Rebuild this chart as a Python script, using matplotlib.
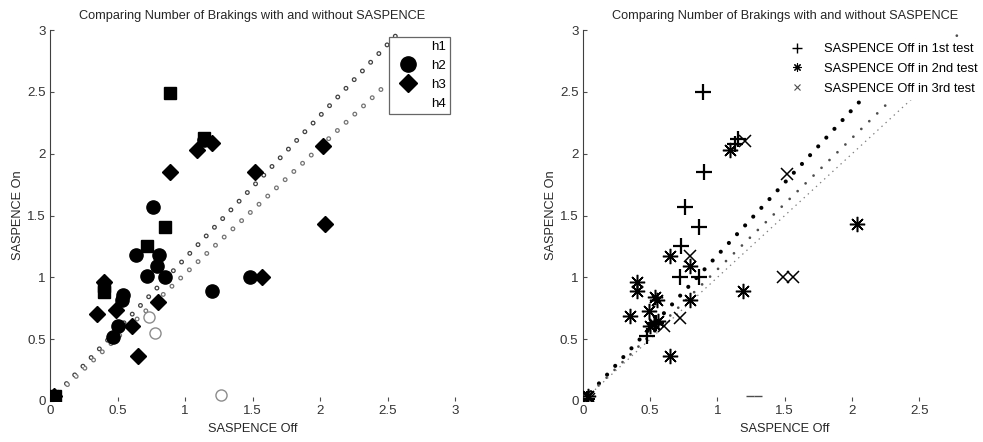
import matplotlib
matplotlib.use("Agg")
import matplotlib.pyplot as plt
from matplotlib.lines import Line2D

plt.rcParams['font.family'] = ['Liberation Sans', 'DejaVu Sans']
plt.rcParams['font.size'] = 9.2
plt.rcParams['lines.scale_dashes'] = False

title = "Comparing Number of Brakings with and without SASPENCE"
ticks = [0, 0.5, 1, 1.5, 2, 2.5, 3]
tick_labels = ["0", "0.5", "1", "1.5", "2", "2.5", "3"]

# left panel (h1..h4)
h1_x = [0.89, 0.85, 0.72, 0.40, 1.14, 0.40, 0.04]
h1_y = [2.49, 1.41, 1.25, 0.88, 2.13, 0.93, 0.04]
h2_x = [0.76, 0.64, 0.81, 0.72, 0.79, 0.85, 1.20, 1.48, 0.54, 0.53, 0.50, 0.47, 1.14, 0.02]
h2_y = [1.57, 1.18, 1.18, 1.01, 1.09, 1.00, 0.89, 1.00, 0.86, 0.82, 0.61, 0.52, 2.11, 0.03]
h3_x = [0.89, 1.09, 1.20, 2.04, 1.57, 0.40, 0.35, 0.49, 0.61, 0.80, 0.65, 1.52, 2.02, 0.03]
h3_y = [1.85, 2.03, 2.09, 1.43, 1.00, 0.96, 0.70, 0.74, 0.61, 0.80, 0.36, 1.85, 2.06, 0.04]
h4_x = [1.27, 0.73, 0.78]
h4_y = [0.05, 0.68, 0.55]

# right panel (tests)
t1_x = [0.89, 0.90, 0.76, 0.86, 0.73, 0.72, 0.86, 1.15, 1.13, 0.475, 0.545, 0.03]
t1_y = [2.50, 1.85, 1.57, 1.41, 1.25, 1.00, 1.00, 2.12, 2.08, 0.525, 0.63, 0.02]
t2_x = [1.09, 1.19, 2.04, 0.645, 0.80, 0.80, 0.40, 0.40, 0.35, 0.49, 0.54, 0.55, 0.50, 0.53, 0.65, 0.56, 0.04]
t2_y = [2.03, 0.89, 1.43, 1.17, 1.09, 0.82, 0.96, 0.89, 0.69, 0.73, 0.84, 0.82, 0.61, 0.62, 0.36, 0.65, 0.04]
t3_x = [1.205, 1.52, 1.485, 1.565, 0.80, 0.72, 0.60, 0.05]
t3_y = [2.10, 1.84, 1.00, 1.00, 1.17, 0.67, 0.61, 0.02]
t4_x = [1.245, 1.30]
t4_y = [0.04, 0.04]
legend_right = ["SASPENCE Off in 1st test", "SASPENCE Off in 2nd test",
                "SASPENCE Off in 3rd test"]

# dotted reference lines (end points)
left_hi_x, left_hi_y = [0, 2.6], [0, 3.0]
left_lo_x, left_lo_y = [0, 2.5], [0, 2.57]
right_a_x, right_a_y = [0, 2.53], [0, 2.98]
right_b_x, right_b_y = [0, 2.82], [0, 3.0]
right_c_x, right_c_y = [0, 2.7], [0, 2.7]

ASTERISK = (8, 2, 0)


def style_axes(ax, xt):
    ax.set(xlim=(0, 3), ylim=(0, 3))
    ax.spines['top'].set_visible(False)
    ax.spines['right'].set_visible(False)
    ax.spines['bottom'].set_visible(False)
    ax.spines['left'].set_color('0.25')
    ax.set_xticks(ticks[:xt])
    ax.set_xticklabels(tick_labels[:xt])
    ax.set_yticks(ticks)
    ax.set_yticklabels(tick_labels)
    ax.tick_params(direction='in', length=3, width=0.8, colors='0.3',
                   labelcolor='0.2', labelsize=9.6, pad=3)
    ax.set_title(title, fontsize=9.2, color='0.15', pad=8)
    ax.set_xlabel("SASPENCE Off", fontsize=9.2, color='0.15', labelpad=4)
    ax.set_ylabel("SASPENCE On", fontsize=9.2, color='0.15', labelpad=2)


def ring_line(ax, x, y, color):
    ax.plot(x, y, color=color, lw=3.6, linestyle=(0, (0.01, 8.6)),
            dash_capstyle='round', zorder=1)
    ax.plot(x, y, color='white', lw=1.8, linestyle=(0, (0.01, 8.6)),
            dash_capstyle='round', zorder=1.1)


fig = plt.figure(figsize=(9.83, 4.42), dpi=100)
ax1 = fig.add_axes([0.0509, 0.0928, 0.412, 0.839])
ax2 = fig.add_axes([0.5928, 0.0928, 0.411, 0.839])

# left
ring_line(ax1, left_hi_x, left_hi_y, '0.25')
ring_line(ax1, left_lo_x, left_lo_y, '0.45')
ax1.plot(h1_x, h1_y, 's', color='black', ms=8.5, zorder=3)
ax1.plot(h2_x, h2_y, 'o', color='black', ms=9.5, zorder=3)
ax1.plot(h3_x, h3_y, 'D', color='black', ms=8, zorder=3)
ax1.plot(h4_x, h4_y, 'o', mfc='none', mec='0.55', mew=1.0, ms=8, zorder=3)
style_axes(ax1, 7)

leg_handles = [
    Line2D([], [], linestyle='none', marker=None),
    Line2D([], [], linestyle='none', marker='o', color='black', ms=11),
    Line2D([], [], linestyle='none', marker='D', color='black', ms=9),
    Line2D([], [], linestyle='none', marker=None),
]
leg = ax1.legend(handles=leg_handles, labels=["h1", "h2", "h3", "h4"],
                 loc='upper right', bbox_to_anchor=(1.003, 1.0), fancybox=False,
                 framealpha=1, edgecolor='0.4', labelspacing=0.5,
                 handlelength=2.2, handletextpad=0.6, borderpad=0.3,
                 fontsize=9.6)
leg.get_frame().set_linewidth(0.9)

# right
ax2.plot(right_a_x, right_a_y, color='black', lw=3.0, linestyle=(0, (0.01, 8.6)),
         dash_capstyle='round', zorder=1)
ax2.plot(right_b_x, right_b_y, color='0.3', lw=2.0, linestyle=(0, (0.01, 8.0)),
         dash_capstyle='round', zorder=1)
ax2.plot(right_c_x, right_c_y, color='0.5', lw=0.9, linestyle=(0, (1, 3)), zorder=1)
ax2.plot(t1_x, t1_y, '+', color='black', ms=11, mew=1.6, zorder=3)
ax2.plot(t2_x, t2_y, marker=ASTERISK, linestyle='none', color='black', ms=11,
         mew=1.1, zorder=3)
ax2.plot(t3_x, t3_y, 'x', color='black', ms=9, mew=1.1, zorder=3)
ax2.plot(t4_x, t4_y, '_', color='0.3', ms=6, mew=1, zorder=3)
style_axes(ax2, 6)

leg2_handles = [
    Line2D([], [], linestyle='none', marker='+', color='black', ms=7, mew=1),
    Line2D([], [], linestyle='none', marker=ASTERISK, color='black', ms=6, mew=0.8),
    Line2D([], [], linestyle='none', marker='x', color='0.3', ms=4, mew=0.8),
]
leg2 = ax2.legend(handles=leg2_handles, labels=legend_right,
                  loc='upper right', bbox_to_anchor=(1.003, 0.993), fancybox=False,
                  framealpha=1, edgecolor='white', labelspacing=0.6,
                  handlelength=1.6, handletextpad=1.3, borderpad=0.3,
                  fontsize=9.3)

fig.savefig("out.png", dpi=100)
